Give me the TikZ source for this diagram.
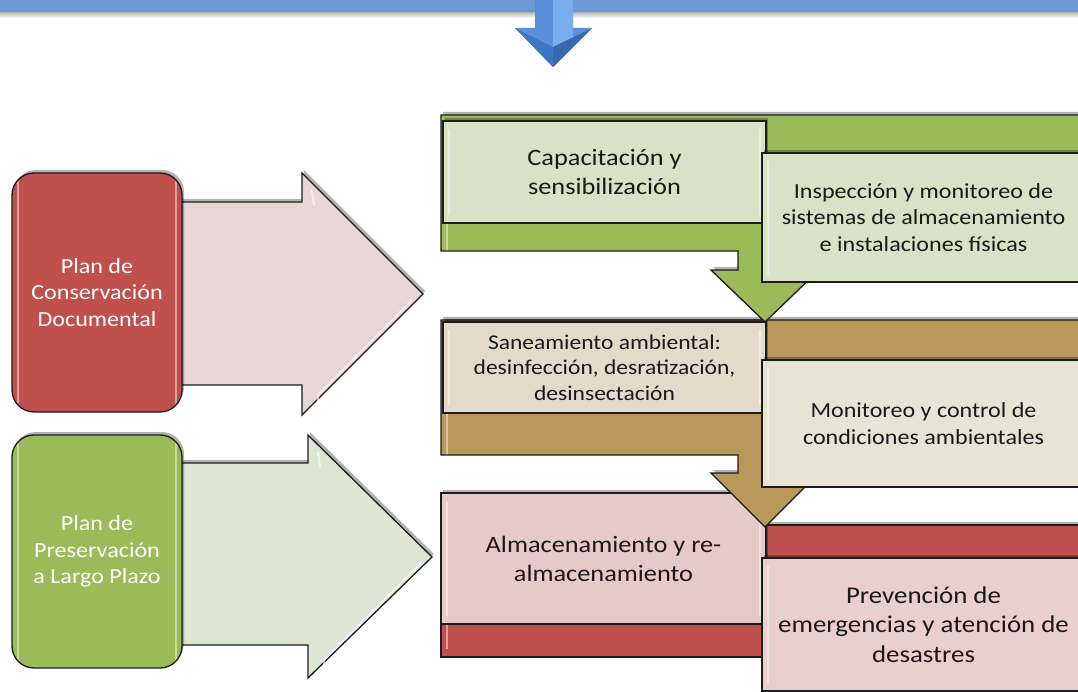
\documentclass[tikz,border=0pt]{standalone}
\usepackage{fontspec}
\setmainfont{Carlito}[FakeStretch=1.12]
\usetikzlibrary{shadows}
\definecolor{barblue}{HTML}{6D98D3}
\definecolor{bluemid}{HTML}{5A8FDA}
\definecolor{bluelite}{HTML}{86BDF3}
\definecolor{bluedark}{HTML}{3E76C4}
\definecolor{bluedark2}{HTML}{3669B2}
\definecolor{redA}{HTML}{C0504D}
\definecolor{greenA}{HTML}{9BBB59}
\definecolor{goldA}{HTML}{B9985A}
\definecolor{pinkArrow}{HTML}{E8D5D5}
\definecolor{greenArrow}{HTML}{DDE6D2}
\definecolor{liteGreen}{HTML}{D8E2C6}
\definecolor{liteTan}{HTML}{E4DACA}
\definecolor{liteBeige}{HTML}{E7E3D5}
\definecolor{litePink}{HTML}{E6C9C9}
\definecolor{litePink2}{HTML}{E9CFCE}
\definecolor{edge}{HTML}{1C1C1C}
\tikzset{
  shad/.style={drop shadow={shadow xshift=2pt,shadow yshift=3pt,opacity=.3,fill=black}},
  gloss/.style={path picture={
    \draw[white,opacity=.45,line width=1.8pt] ([xshift=6pt,yshift=-8pt]path picture bounding box.north west) -- ([xshift=6pt,yshift=8pt]path picture bounding box.south west);
    \draw[white,opacity=.45,line width=1.8pt] ([xshift=-6pt,yshift=-8pt]path picture bounding box.north east) -- ([xshift=-6pt,yshift=8pt]path picture bounding box.south east);
  }},
  band/.style={draw=edge,line width=1.3pt,shad,gloss},
  litebox/.style={rectangle,draw=edge,line width=1.3pt,align=center,inner sep=0pt,outer sep=0pt,text=black!90,shad,gloss},
  leftbox/.style={rectangle,rounded corners=22pt,draw=edge,line width=1.3pt,align=center,inner sep=0pt,text=white,
     minimum width=170pt,shad,gloss,font=\fontsize{21.5}{26.5}\selectfont},
  bigarrow/.style={draw=edge,line width=1.3pt,shad},
  fA/.style={font=\fontsize{23.5}{29}\selectfont},
  fB/.style={font=\fontsize{21.5}{26.5}\selectfont},
  fC/.style={font=\fontsize{21}{25.5}\selectfont},
  fD/.style={font=\fontsize{24}{29.5}\selectfont}
}
\begin{document}
\begin{tikzpicture}[x=1pt,y=-1pt]
\useasboundingbox (0,0) rectangle (1078,692);
\fill[white] (0,0) rectangle (1078,692);
% top bar and blue arrow
\shade[top color=black!30,bottom color=white] (0,12) rectangle (1078,18);
\fill[barblue] (0,-2) rectangle (1078,12);
\path[fill=bluemid] (535,-2) -- (573,-2) -- (573,28) -- (592,28) -- (553,67) -- (515,28) -- (535,28) -- cycle;
\fill[bluelite!70!bluemid] (553,-2) -- (573,-2) -- (573,40) -- (553,47) -- cycle;
\fill[bluelite] (515,28) -- (535,40) -- (553,47) -- cycle;
\fill[bluelite] (592,28) -- (573,40) -- (553,47) -- cycle;
\fill[bluedark] (515,28) -- (553,47) -- (553,67) -- cycle;
\fill[bluedark2] (592,28) -- (553,47) -- (553,67) -- cycle;
% left arrows
\draw[bigarrow,fill=pinkArrow] (170,202) -- (302,202) -- (302,173) -- (423,294) -- (302,415) -- (302,385) -- (170,385) -- cycle;
\draw[white,opacity=.6,line width=2pt] (312,190) -- (314,205);
\draw[white,opacity=.6,line width=2pt] (412,300) -- (318,395) -- (318,405);
\draw[bigarrow,fill=greenArrow] (170,463) -- (308,463) -- (308,435) -- (432,557) -- (308,678) -- (308,645) -- (170,645) -- cycle;
\draw[white,opacity=.6,line width=2pt] (318,452) -- (320,467);
\draw[white,opacity=.6,line width=2pt] (421,563) -- (324,660) -- (324,670);
% left boxes
\node[leftbox,fill=redA,minimum height=239pt] (pcd) at (97,292.5) {Plan de\\Conservación\\Documental};
\node[leftbox,fill=greenA,minimum height=233pt] (pplp) at (97,551.5) {Plan de\\Preservación\\a Largo Plazo};
% panel 3 (red)
\path[band,fill=redA] (441,525) -- (1092,525) -- (1092,657) -- (441,657) -- cycle;
\node[litebox,fill=litePink,minimum width=325pt,minimum height=131pt,fA] (alm) at (603.5,558.5) {Almacenamiento y re-\\almacenamiento};
% panel 2 (gold)
\path[band,fill=goldA] (441,320) -- (1092,320) -- (1092,455) -- (792,455) -- (792,473) -- (819,473) -- (765,527) -- (711,473) -- (738,473) -- (738,455) -- (441,455) -- cycle;
\node[litebox,fill=liteTan,minimum width=323pt,minimum height=91pt,fC] (san) at (604.5,367.5) {Saneamiento ambiental:\\desinfección, desratización,\\desinsectación};
% panel 1 (green)
\path[band,fill=greenA] (441,115) -- (1092,115) -- (1092,251) -- (792,251) -- (792,270) -- (819,270) -- (765,322) -- (711,270) -- (738,270) -- (738,251) -- (441,251) -- cycle;
\node[litebox,fill=liteGreen,minimum width=323pt,minimum height=102pt,fA] (cap) at (604.5,172) {Capacitación y\\sensibilización};
% right boxes
\node[litebox,fill=liteGreen,minimum width=323pt,minimum height=129pt,fB] (ins) at (923.5,217.5) {Inspección y monitoreo de\\sistemas de almacenamiento\\e instalaciones físicas};
\node[litebox,fill=liteBeige,minimum width=323pt,minimum height=127pt,fB] (mon) at (923.5,423.5) {Monitoreo y control de\\condiciones ambientales};
\node[litebox,fill=litePink2,minimum width=323pt,minimum height=133pt,fD] (pre) at (923.5,624.5) {Prevención de\\emergencias y atención de\\desastres};
\end{tikzpicture}
\end{document}
